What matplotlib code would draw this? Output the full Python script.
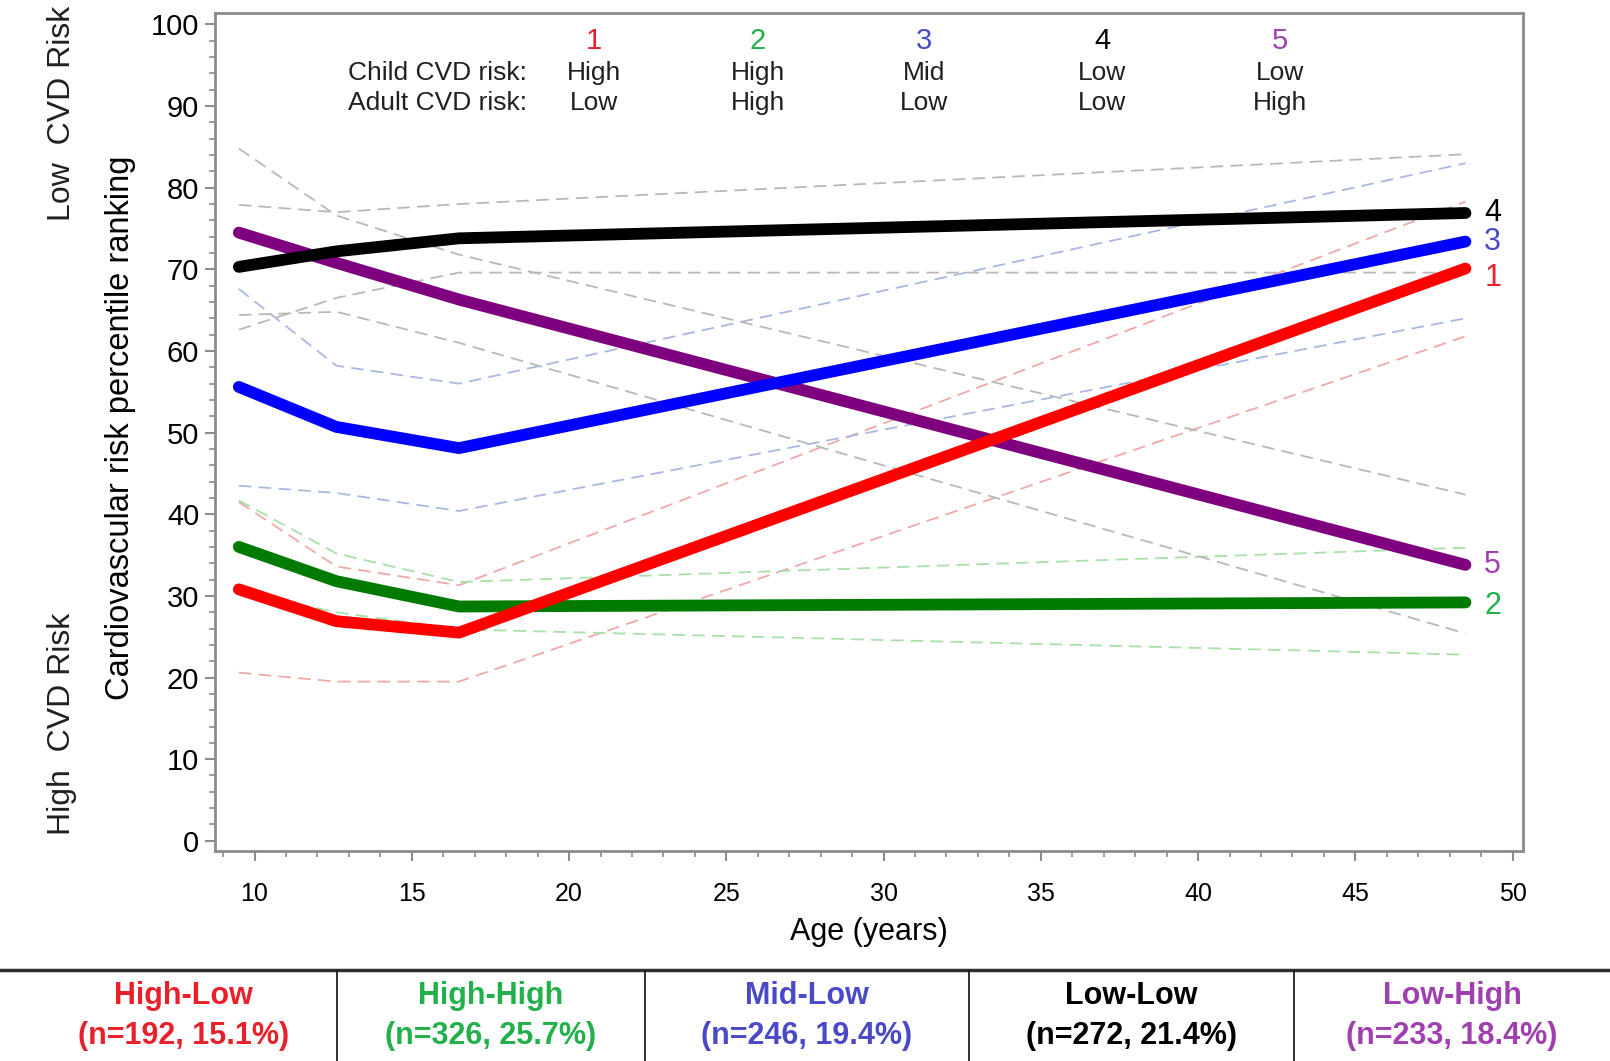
import numpy as np
import matplotlib.pyplot as plt
from matplotlib.lines import Line2D
from matplotlib.ticker import MultipleLocator

plt.rcParams['font.family'] = ['Liberation Sans', 'DejaVu Sans']

# ages where the trajectories have knots
ages = [9.5, 12.6, 16.5, 48.5]

# mean trajectories (thick lines)
traj_1 = [30.8, 26.9, 25.5, 70.1]   # High-Low
traj_2 = [36.0, 31.8, 28.7, 29.2]   # High-High
traj_3 = [55.6, 50.7, 48.1, 73.4]   # Mid-Low
traj_4 = [70.3, 72.2, 73.8, 76.9]   # Low-Low
traj_5 = [74.5, 70.8, 66.3, 33.8]   # Low-High

# confidence bands (thin dashed lines)
band_1_hi = [41.5, 33.6, 31.3, 78.3]
band_1_lo = [20.6, 19.5, 19.5, 61.8]
band_2_hi = [41.7, 35.2, 31.7, 35.9]
band_2_lo = [30.5, 28.0, 25.9, 22.8]
band_3_hi = [67.6, 58.2, 56.0, 83.0]
band_3_lo = [43.5, 42.6, 40.4, 64.0]
band_4_hi = [77.9, 77.0, 78.0, 84.1]
band_4_lo = [62.6, 66.5, 69.6, 69.6]
band_5_hi = [84.8, 76.6, 71.8, 42.4]
band_5_lo = [64.4, 64.8, 61.0, 25.4]

group_ids = ['1', '2', '3', '4', '5']
child_risk = ['High', 'High', 'Mid', 'Low', 'Low']
adult_risk = ['Low', 'High', 'Low', 'Low', 'High']
group_names = ['High-Low', 'High-High', 'Mid-Low', 'Low-Low', 'Low-High']
group_n = [192, 326, 246, 272, 233]
group_pct = [15.1, 25.7, 19.4, 21.4, 18.4]

line_colors = ['#ff0000', '#007a00', '#0000ff', '#000000', '#7f007f']
band_colors = ['#f0a8a8', '#a8e0a8', '#a8b8e0', '#b8b8b8', '#b8b8b8']
text_colors = ['#e8202a', '#22b04a', '#4a4ac8', '#000000', '#a040b0']

trajs = [traj_1, traj_2, traj_3, traj_4, traj_5]
bands = [(band_1_hi, band_1_lo), (band_2_hi, band_2_lo), (band_3_hi, band_3_lo),
         (band_4_hi, band_4_lo), (band_5_hi, band_5_lo)]

W, H = 1610, 1061
fig = plt.figure(figsize=(W / 100, H / 100), dpi=100)
ax = fig.add_axes([214.6 / W, 1 - 851 / H, (1523 - 214.6) / W, (851 - 13) / H])

# dashed bands first
for (hi, lo), c in zip(bands, band_colors):
    ax.plot(ages, hi, color=c, lw=1.3, ls=(0, (7, 4)))
    ax.plot(ages, lo, color=c, lw=1.3, ls=(0, (7, 4)))

# thick trajectories, drawing order like the picture
for i in [4, 3, 2, 1, 0]:
    ax.plot(ages, trajs[i], color=line_colors[i], lw=8.5,
            solid_capstyle='round', solid_joinstyle='round')

# end labels
for i in range(5):
    yv = trajs[i][-1]
    if i == 0:
        yv -= 1.2
    if i == 1:
        yv -= 0.5
    ax.text(49.1, yv, group_ids[i], color=text_colors[i], fontsize=22,
            ha='left', va='center')

# header annotation
col_x = [20.8, 26.0, 31.3, 36.95, 42.6]
ax.text(18.67, 94.0, 'Child CVD risk:', fontsize=19, ha='right', va='center', color='#202020')
ax.text(18.67, 90.4, 'Adult CVD risk:', fontsize=19, ha='right', va='center', color='#202020')
for i in range(5):
    ax.text(col_x[i], 98.0, group_ids[i], fontsize=21, ha='center', va='center',
            color=text_colors[i])
    ax.text(col_x[i], 94.0, child_risk[i], fontsize=19, ha='center', va='center', color='#202020')
    ax.text(col_x[i], 90.4, adult_risk[i], fontsize=19, ha='center', va='center', color='#202020')

ax.set_xlim(8.73, 50.33)
ax.set_ylim(-1.25, 101.4)
ax.xaxis.set_major_locator(MultipleLocator(5))
ax.xaxis.set_minor_locator(MultipleLocator(1))
ax.yaxis.set_major_locator(MultipleLocator(10))
ax.yaxis.set_minor_locator(MultipleLocator(2))
ax.set_xticks(range(10, 51, 5))
for s in ax.spines.values():
    s.set_color('#8c8c8c')
    s.set_linewidth(2)
ax.tick_params(axis='both', which='major', length=7, width=1.5, color='#8c8c8c')
ax.tick_params(axis='both', which='minor', length=4, width=1.2, color='#8c8c8c')
ax.tick_params(axis='x', labelsize=18, pad=15)
ax.tick_params(axis='y', labelsize=21, pad=4)

ax.set_xlabel('Age (years)', fontsize=22, labelpad=8)
fig.text(121 / W, 1 - 428 / H, 'Cardiovascular risk percentile ranking', rotation=90,
         fontsize=23.5, ha='center', va='center')
fig.text(62 / W, 1 - 113 / H, 'Low  CVD Risk', rotation=90, fontsize=23,
         ha='center', va='center', color='#202020')
fig.text(62 / W, 1 - 724 / H, 'High  CVD Risk', rotation=90, fontsize=23,
         ha='center', va='center', color='#202020')

# group table at the bottom
edges = [30, 337, 645, 969, 1294, 1610]
fig.add_artist(Line2D([0, 1], [1 - 970 / H] * 2, color='#303030', lw=2.5))
for e in edges[1:-1]:
    fig.add_artist(Line2D([e / W] * 2, [0, 1 - 970 / H], color='#202020', lw=1.3))
for i in range(5):
    cx = (edges[i] + edges[i + 1]) / 2 / W
    fig.text(cx, 1 - 996 / H, group_names[i], fontsize=22, fontweight='bold',
             ha='center', va='center', color=text_colors[i])
    fig.text(cx, 1 - 1036 / H, f'(n={group_n[i]}, {group_pct[i]}%)', fontsize=22,
             fontweight='bold', ha='center', va='center', color=text_colors[i])

fig.savefig('out.png', dpi=100, facecolor='white')
